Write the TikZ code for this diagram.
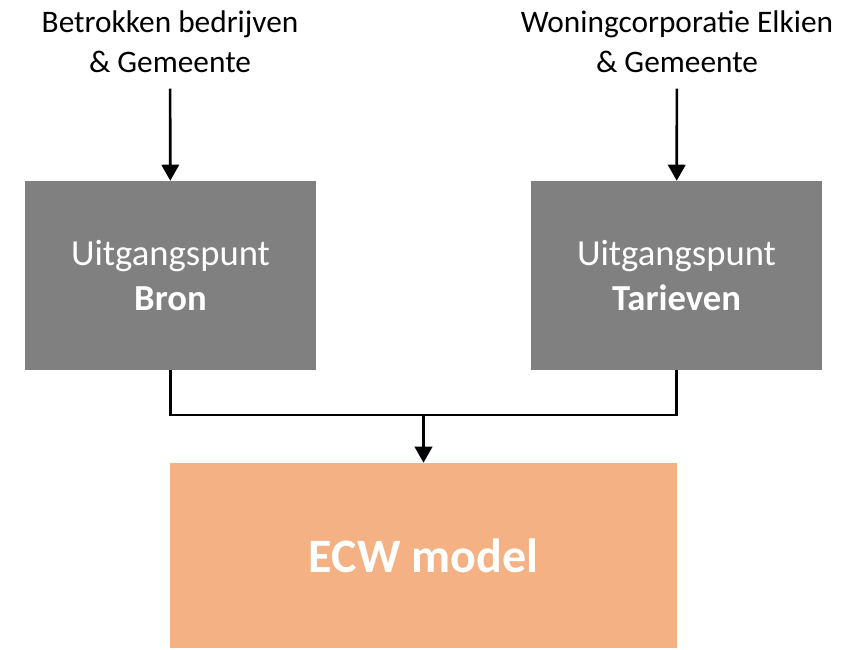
\documentclass[tikz,border=0pt]{standalone}
\usepackage{fontspec}
\setmainfont{Carlito}
\usetikzlibrary{arrows.meta, positioning, calc}
\definecolor{inputgray}{HTML}{808080}
\definecolor{modelorange}{HTML}{F4B183}

\begin{document}
\begin{tikzpicture}[
    x=0.75pt, y=-0.75pt,
    source/.style={align=center, inner xsep=0pt, inner ysep=11.5pt,
                   font=\fontsize{23.5}{30}\selectfont},
    input/.style={rectangle, fill=inputgray, text=white,
                  minimum width=218.25pt, minimum height=141.75pt, align=center,
                  font=\fontsize{27.5}{33.75}\selectfont},
    model/.style={rectangle, fill=modelorange, text=white,
                  minimum width=380.25pt, minimum height=138.75pt,
                  font=\fontsize{36}{40}\selectfont\bfseries},
    link/.style={line width=2pt, color=black},
    arrow/.style={link, -{Triangle[length=12pt, width=13pt]}}
]
\useasboundingbox (0,0) rectangle (859,649);

% the two starting points and the model below them
\node[input] (bron) at (170.5,275.5) {Uitgangspunt\\\textbf{Bron}};
\node[input] (tarieven) at (676.5,275.5) {Uitgangspunt\\\textbf{Tarieven}};
\node[model] (ecw) at (423.5,555.5) {ECW model};

% who delivers the input
\node[source] (bedrijven) at (170,42) {Betrokken bedrijven\\\& Gemeente};
\node[source] (elkien) at (677,42) {Woningcorporatie Elkien\\\& Gemeente};

\draw[arrow] (bedrijven) -- (bron);
\draw[arrow] (elkien) -- (tarieven);

% both inputs come together above the model
\coordinate (merge) at (423.5,415);
\draw[link] (bron) |- (merge);
\draw[link] (tarieven) |- (merge);
\draw[arrow] (merge) -- (ecw);

\end{tikzpicture}
\end{document}
